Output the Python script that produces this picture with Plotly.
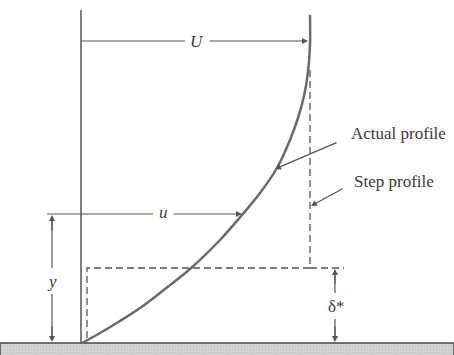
import plotly.graph_objects as go

# ── Diagram geometry (pixel-like units, y down) ───────────────────────────────

# actual velocity profile u(y)
profile_x = [82, 100, 120, 143, 165, 190, 220, 242, 260, 277, 290, 298, 304, 308, 310, 310]
profile_y = [343, 333, 321, 306, 289, 269, 240, 215, 193, 168, 140, 118, 96, 72, 45, 15]

wall_x = 81
wall_top, ground_y = 10, 343
step_x, step_top = 310, 70
delta_y = 268
u_level, U_level = 214, 41

LINE = '#555555'
CURVE = '#6a6a6a'
TEXT = '#3a3a3a'
SERIF = 'Liberation Serif'

fig = go.Figure()

# ground band
fig.add_trace(go.Scatter(
    x=[0, 454, 454, 0, 0], y=[ground_y, ground_y, 356, 356, ground_y],
    mode='lines', fill='toself', fillcolor='#d2d2d2',
    fillpattern=dict(shape='.', fgcolor='#b4b4b4', bgcolor='#d6d6d6', size=3, solidity=0.4),
    line=dict(color='#4a4a4a', width=1.5), hoverinfo='skip', showlegend=False,
))

# wall
fig.add_trace(go.Scatter(x=[wall_x, wall_x], y=[wall_top, ground_y], mode='lines',
                         line=dict(color=LINE, width=1.5), showlegend=False))

# actual profile
fig.add_trace(go.Scatter(x=profile_x, y=profile_y, mode='lines', line_shape='spline',
                         line=dict(color=CURVE, width=2.5, smoothing=1.0), showlegend=False))

# step profile (dashed)
fig.add_trace(go.Scatter(x=[step_x, step_x, 87, 87], y=[step_top, delta_y, delta_y, ground_y],
                         mode='lines', line=dict(color=LINE, width=1.3, dash='7px,4px'),
                         showlegend=False))
fig.add_trace(go.Scatter(x=[step_x, 344], y=[delta_y, delta_y], mode='lines',
                         line=dict(color=LINE, width=1.3, dash='7px,4px'), showlegend=False))

# plain helper lines: U left part, u left part
fig.add_trace(go.Scatter(x=[wall_x, 185], y=[U_level, U_level], mode='lines',
                         line=dict(color=LINE, width=1.2), showlegend=False))
fig.add_trace(go.Scatter(x=[47, 153], y=[u_level, u_level], mode='lines',
                         line=dict(color=LINE, width=1.2), showlegend=False))

# y dimension line (gap for the label)
fig.add_trace(go.Scatter(x=[52, 52, None, 52, 52], y=[218, 268, None, 294, 339], mode='lines',
                         line=dict(color=LINE, width=1.2), showlegend=False))
# delta* dimension line (gap for the label)
fig.add_trace(go.Scatter(x=[335, 335, None, 335, 335], y=[272, 293, None, 319, 339], mode='lines',
                         line=dict(color=LINE, width=1.2), showlegend=False))

arrow = dict(xref='x', yref='y', axref='x', ayref='y', text='', showarrow=True,
             arrowhead=2, arrowsize=1, arrowwidth=1.2, arrowcolor=LINE)

annotations = [
    dict(arrow, x=308, y=U_level, ax=208, ay=U_level),
    dict(arrow, x=242, y=u_level, ax=172, ay=u_level),
    dict(arrow, x=52, y=u_level + 1, ax=52, ay=232),
    dict(arrow, x=52, y=ground_y - 1, ax=52, ay=325),
    dict(arrow, x=335, y=delta_y + 1, ax=335, ay=285),
    dict(arrow, x=335, y=ground_y - 1, ax=335, ay=325),
    dict(arrow, x=275, y=169, ax=338, ay=142),
    dict(arrow, x=311, y=206, ax=344, ay=188),
]

labels = [
    ('<i>U</i>', 197, U_level, 17, 'center'),
    ('<i>u</i>', 163, u_level - 2, 17, 'center'),
    ('<i>y</i>', 52, 281, 17, 'center'),
    ('δ*', 336, 306, 17, 'center'),
    ('Actual profile', 349, 133, 17, 'left'),
    ('Step profile', 352, 181, 17, 'left'),
]
for txt, x, y, size, anchor in labels:
    annotations.append(dict(x=x, y=y, xref='x', yref='y', text=txt, showarrow=False,
                            xanchor=anchor, yanchor='middle',
                            font=dict(family=SERIF, size=size, color=TEXT)))

fig.update_layout(
    width=454, height=355,
    margin=dict(l=0, r=0, t=0, b=0),
    paper_bgcolor='white', plot_bgcolor='white',
    annotations=annotations,
    showlegend=False,
)
fig.update_xaxes(range=[0, 454], visible=False, fixedrange=True)
fig.update_yaxes(range=[355, 0], visible=False, fixedrange=True)

fig.write_html("out.html", config=dict(displayModeBar=False),
               post_script="document.body.style.margin='0';")
